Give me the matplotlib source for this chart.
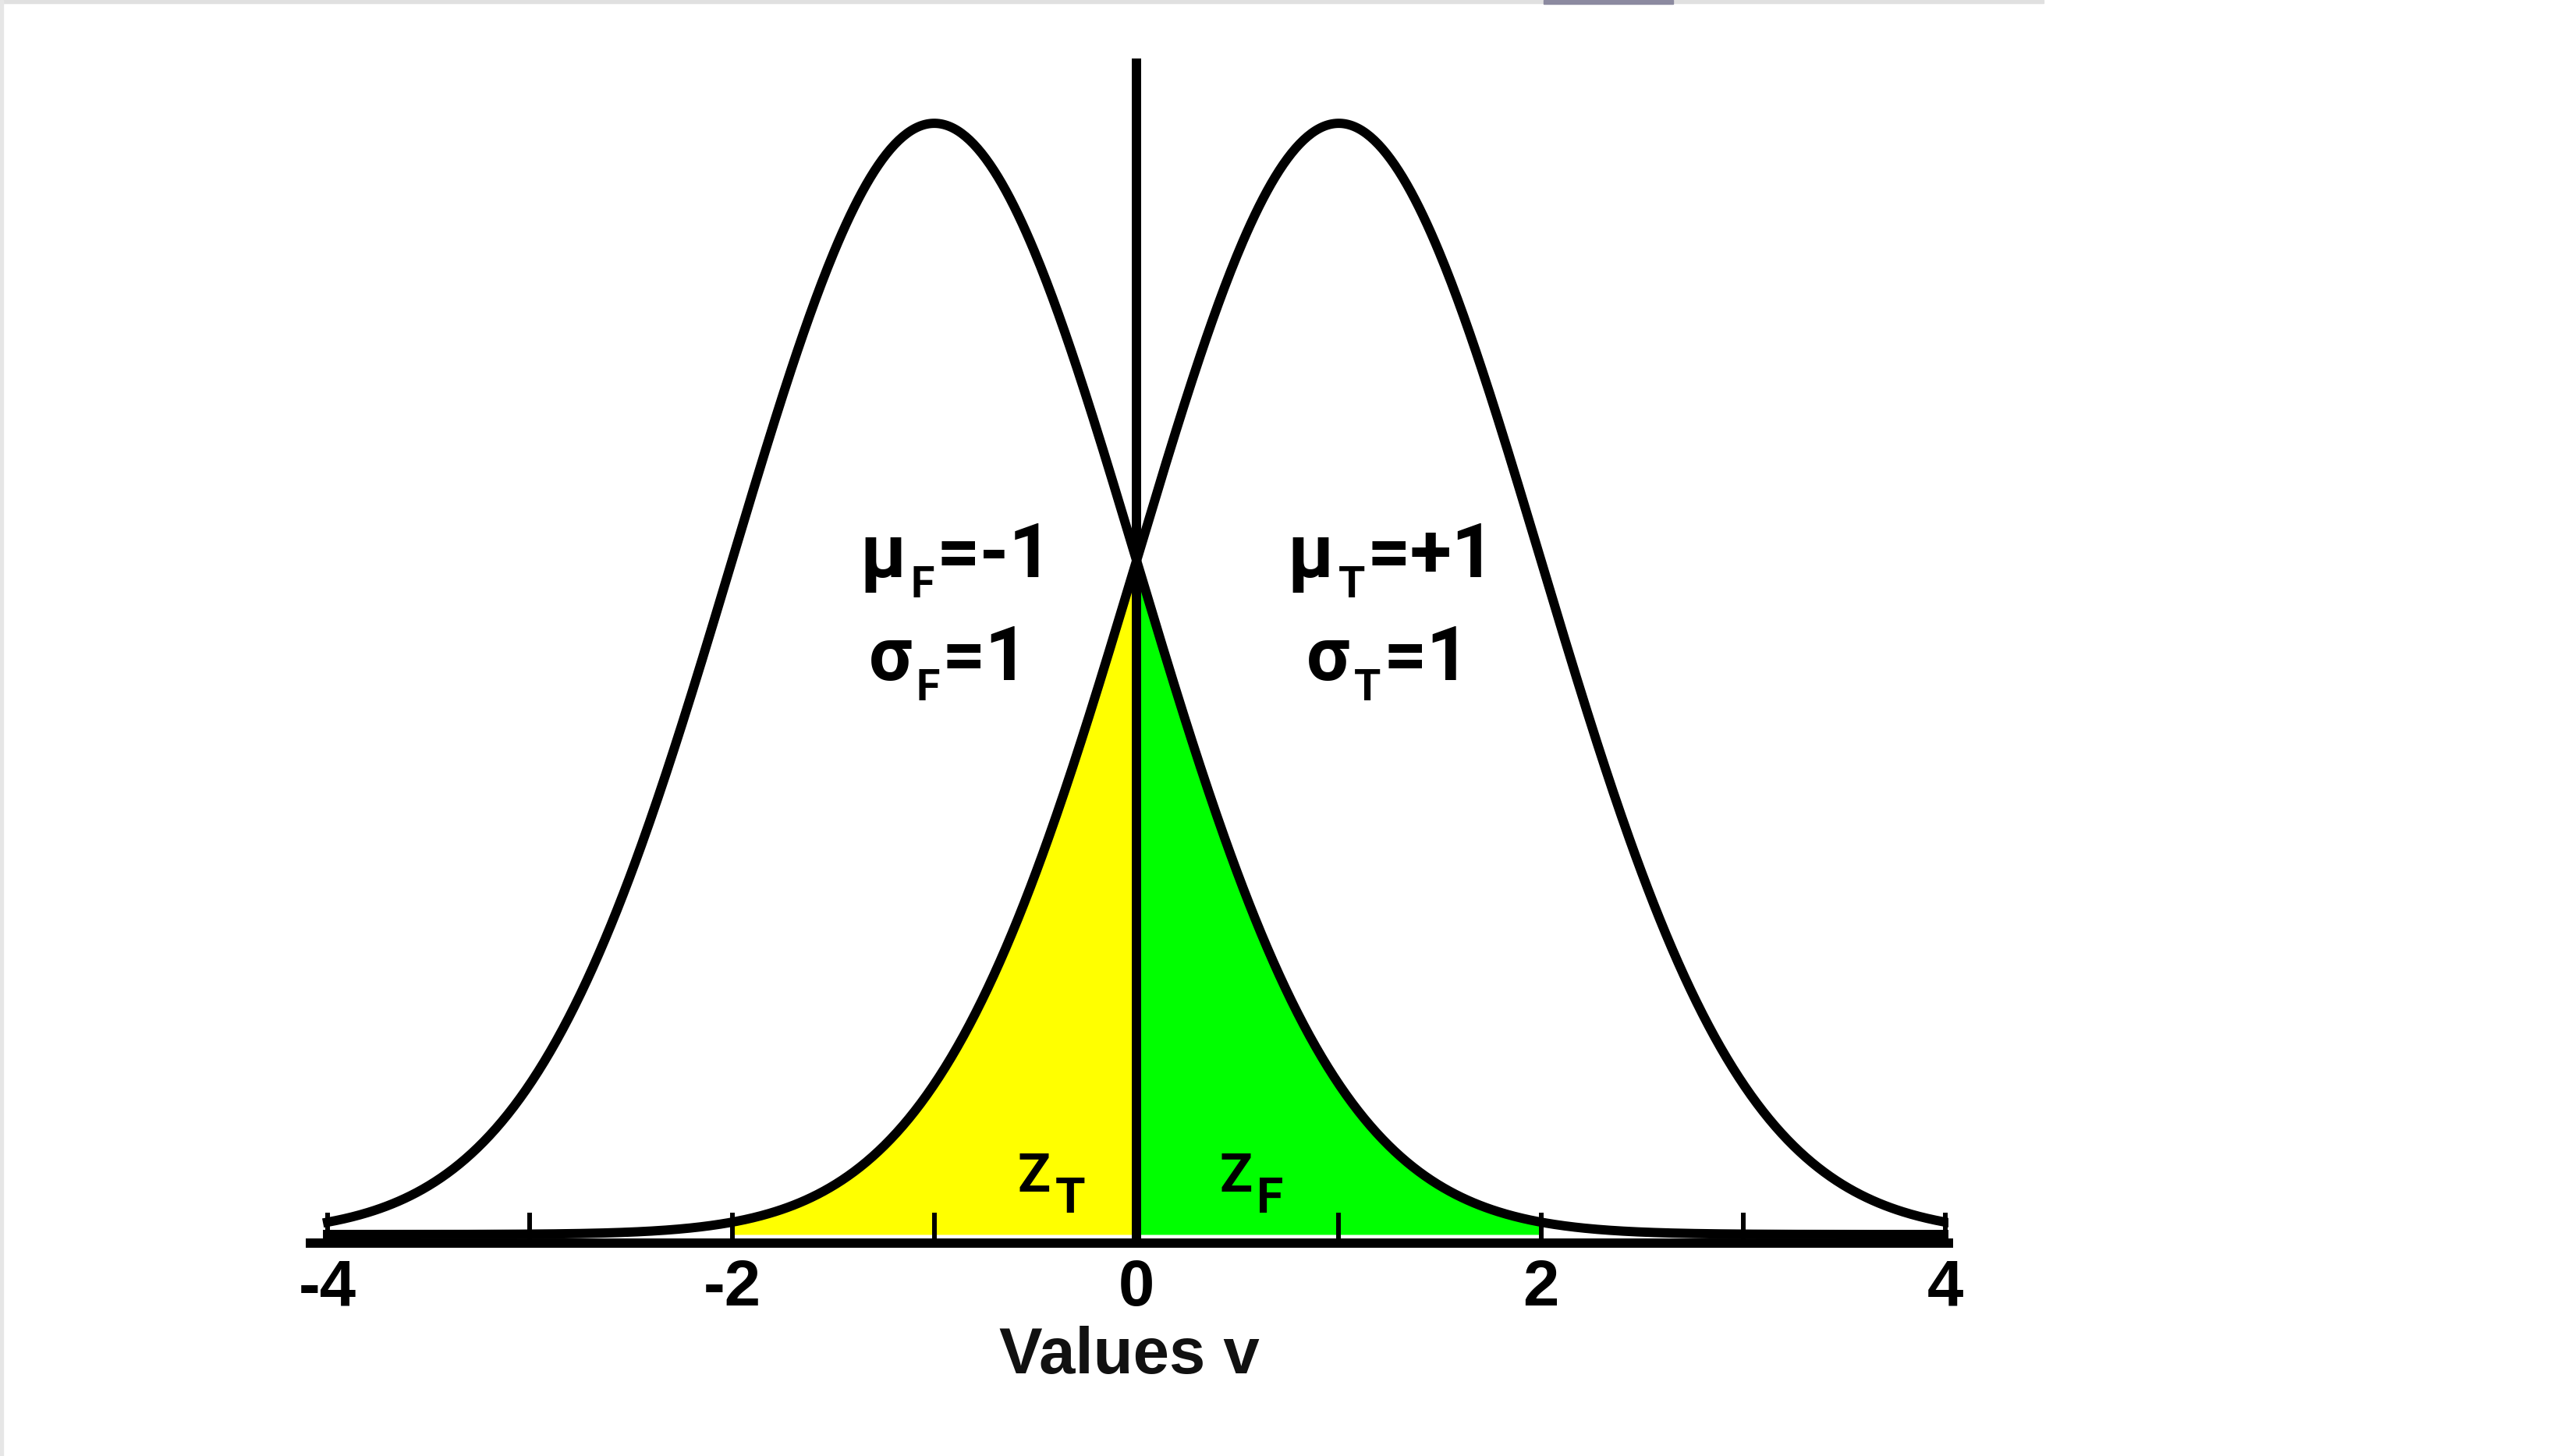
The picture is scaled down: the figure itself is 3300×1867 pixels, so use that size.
import numpy as np
import matplotlib
matplotlib.use("Agg")
from matplotlib import pyplot as plt
from matplotlib.patches import Rectangle

# two gaussians: F (false) and T (true)
means = [-1.0, 1.0]
sigmas = [1.0, 1.0]
names = ['F', 'T']
x_ticks = [-4, -3, -2, -1, 0, 1, 2, 3, 4]
x_tick_labels = ['-4', '', '-2', '', '0', '', '2', '', '4']
criterion = 0.0
shade_lo = -2.0
shade_hi = 2.0

TXT_FONT = ['Roboto', 'DejaVu Sans']
AX_FONT = ['Liberation Sans', 'DejaVu Sans']


def gauss(x, mu, sd):
    return np.exp(-0.5 * ((x - mu) / sd) ** 2) / (sd * np.sqrt(2 * np.pi))


def sub_text(ax, x, y, base, sub, rest, size, sub_size, drop):
    t = ax.text(x, y, base, fontsize=size, fontweight='bold', family=TXT_FONT,
                ha='left', va='baseline', zorder=5)
    s = ax.annotate(sub, xy=(1, y), xycoords=(t, 'data'), xytext=(4, -drop),
                    textcoords='offset points', fontsize=sub_size, fontweight='bold',
                    family=TXT_FONT, ha='left', va='baseline', zorder=5)
    if rest:
        ax.annotate(rest, xy=(1, y), xycoords=(s, 'data'), xytext=(2, 0),
                    textcoords='offset points', fontsize=size, fontweight='bold',
                    family=TXT_FONT, ha='left', va='baseline', zorder=5)


fig = plt.figure(figsize=(33, 18.67), dpi=100)
ax = fig.add_axes([0.1206, 0.1462, 0.6364, 0.8136])

xs = np.linspace(x_ticks[0], x_ticks[-1], 800)
pdf_F = gauss(xs, means[0], sigmas[0])
pdf_T = gauss(xs, means[1], sigmas[1])

# shaded tails either side of the criterion
left = (xs >= shade_lo) & (xs <= criterion)
right = (xs >= criterion) & (xs <= shade_hi)
ax.fill_between(xs[left], 0, pdf_T[left], color='#ffff00', lw=0, zorder=1)
ax.fill_between(xs[right], 0, pdf_F[right], color='#00ff00', lw=0, zorder=1)

ax.plot(xs, pdf_F, color='black', lw=8.6, zorder=2)
ax.plot(xs, pdf_T, color='black', lw=8.6, zorder=2)
ax.axvline(criterion, color='black', lw=8.6, zorder=3)

ax.set_xlim(-4.085, 4.015)
ax.set_ylim(-0.0031, 0.4222)

for s in ['top', 'left', 'right']:
    ax.spines[s].set_visible(False)
ax.spines['bottom'].set_linewidth(8.6)
ax.spines['bottom'].set_zorder(4)
ax.set_yticks([])
ax.set_xticks(x_ticks)
ax.set_xticklabels(x_tick_labels, fontsize=60, fontweight='bold', family=AX_FONT)
ax.tick_params(axis='x', direction='in', length=28, width=4.3, pad=14)
ax.set_xlabel('Values v', fontsize=60, fontweight='bold', family=AX_FONT,
              color='#111111', labelpad=6)

# parameter labels
sub_text(ax, -1.37, 0.236, 'μ', names[0], '=%d' % means[0], 70, 40, 18.7)
sub_text(ax, -1.325, 0.199, 'σ', names[0], '=%d' % sigmas[0], 70, 40, 18.7)
sub_text(ax, 0.745, 0.236, 'μ', names[1], '=%+d' % means[1], 70, 40, 18.7)
sub_text(ax, 0.84, 0.199, 'σ', names[1], '=%d' % sigmas[1], 70, 40, 18.7)

# area labels
sub_text(ax, -0.587, 0.0154, 'Z', 'T', '', 50, 45, 19.4)
sub_text(ax, 0.409, 0.0154, 'Z', 'F', '', 50, 45, 19.4)

# thin screenshot frame bits
fig.patches.append(Rectangle((0, 1 - 4 / 1867), 2620 / 3300, 4 / 1867,
                             transform=fig.transFigure, color='#e0e0e0', zorder=0))
fig.patches.append(Rectangle((1979 / 3300, 1 - 5 / 1867), 166 / 3300, 5 / 1867,
                             transform=fig.transFigure, color='#8c8aa0', zorder=0))
fig.patches.append(Rectangle((0, 0), 4 / 3300, 1, transform=fig.transFigure,
                             color='#e6e6e6', zorder=0))

fig.savefig('out.png', dpi=100)
